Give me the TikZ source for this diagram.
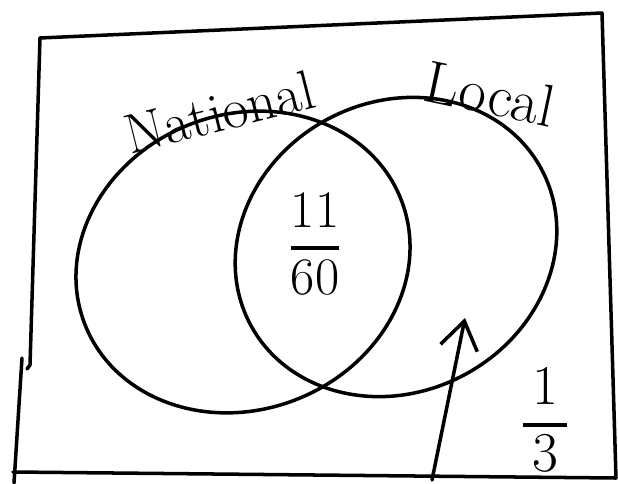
\documentclass[tikz,border=0pt]{standalone}
\usetikzlibrary{shapes.geometric,arrows.meta}
\setlength\arrayrulewidth{2pt}
\begin{document}
\begin{tikzpicture}[x=0.02cm,y=-0.02cm,
  ink/.style={line width=2pt, line cap=round, line join=round},
  setshape/.style={ink, draw, ellipse, inner sep=0pt},
  hand/.style={font=\fontsize{#1}{#1}\selectfont, inner sep=1pt},
  fracnode/.style={font=\fontsize{#1}{36}\selectfont, inner sep=0pt}]
\useasboundingbox (0,0) rectangle (618,483);
% frame
\coordinate (tl) at (40,38);
\coordinate (tr) at (602,13);
\coordinate (br) at (616,478);
\coordinate (bl) at (13,472);
\coordinate (lmid) at (30,365);
\coordinate (lhook) at (27,369);
\coordinate (lowtop) at (22,358);
\coordinate (lowend) at (14,483);
\draw[ink] (tl) -- (tr) -- (br) -- (bl);
\draw[ink] (tl) -- (lmid) -- (lhook);
\draw[ink] (lowtop) -- (lowend);
% sets
\node[setshape, minimum width=6.8cm, minimum height=5.9cm, rotate=22] (national) at (243,262) {};
\node[setshape, minimum width=6.6cm, minimum height=5.8cm, rotate=28] (local) at (396,247) {};
% labels
\node[hand=32, rotate=14] (natlabel) at (220,112) {National};
\node[hand=34, rotate=-12] (loclabel) at (490,94) {L\kern1pt ocal};
\node[fracnode=30] (both) at (315,248) {\begin{tabular}{@{}c@{}}11\\\hline 60\end{tabular}};
\node[fracnode=32] (onlylocal) at (545,425) {\begin{tabular}{@{\,}c@{\,}}1\\\hline 3\end{tabular}};
% arrow
\coordinate (arrowfoot) at (432,480);
\coordinate (arrowtip) at (465,318);
\draw[ink, -{Straight Barb[length=0.55cm,width=0.75cm]}] (arrowfoot) -- (arrowtip);
\end{tikzpicture}
\end{document}
